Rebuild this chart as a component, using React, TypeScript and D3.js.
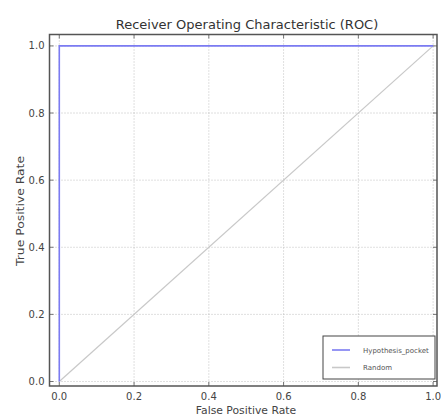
import React, { useEffect, useRef } from 'react'
import * as d3 from 'd3'

const fprPocket = [0.0, 0.0, 1.0]
const tprPocket = [0.0, 1.0, 1.0]
const fprRandom = [0.0, 1.0]
const tprRandom = [0.0, 1.0]
const xTicks = [0.0, 0.2, 0.4, 0.6, 0.8, 1.0]
const yTicks = [0.0, 0.2, 0.4, 0.6, 0.8, 1.0]
const seriesNames = ['Hypothesis_pocket', 'Random']
const seriesColors = ['#7b7bf2', '#c8c8c8']

const App = () => {
  const ref = useRef<SVGSVGElement>(null)

  useEffect(() => {
    const svg = d3.select(ref.current)
    svg.selectAll('*').remove()
    const font = 'DejaVu Sans, sans-serif'
    const left = 49.5, right = 437, top = 34.5, bottom = 386

    const x = d3.scaleLinear().domain([-0.0262, 1.0104]).range([left, right])
    const y = d3.scaleLinear().domain([-0.0134, 1.034]).range([bottom, top])

    // grid
    const grid = svg.append('g')
    grid.selectAll('.gx').data(xTicks).enter().append('line')
      .attr('x1', d => x(d)).attr('x2', d => x(d))
      .attr('y1', top).attr('y2', bottom)
      .attr('stroke', '#b0b0b0').attr('stroke-width', 0.8).attr('stroke-dasharray', '1,2')
    grid.selectAll('.gy').data(yTicks).enter().append('line')
      .attr('y1', d => y(d)).attr('y2', d => y(d))
      .attr('x1', left).attr('x2', right)
      .attr('stroke', '#b0b0b0').attr('stroke-width', 0.8).attr('stroke-dasharray', '1,2')

    const line = d3.line<[number, number]>().x(d => x(d[0])).y(d => y(d[1]))
    const series = [
      fprRandom.map((v, i) => [v, tprRandom[i]] as [number, number]),
      fprPocket.map((v, i) => [v, tprPocket[i]] as [number, number]),
    ]
    svg.append('path').attr('d', line(series[0])).attr('fill', 'none')
      .attr('stroke', seriesColors[1]).attr('stroke-width', 1.2)
    svg.append('path').attr('d', line(series[1])).attr('fill', 'none')
      .attr('stroke', seriesColors[0]).attr('stroke-width', 1.6)

    // ticks on all sides, pointing inward
    const tk = svg.append('g').attr('stroke', '#555').attr('stroke-width', 0.8)
    xTicks.forEach(t => {
      tk.append('line').attr('x1', x(t)).attr('x2', x(t)).attr('y1', bottom).attr('y2', bottom - 4)
      tk.append('line').attr('x1', x(t)).attr('x2', x(t)).attr('y1', top).attr('y2', top + 4)
    })
    yTicks.forEach(t => {
      tk.append('line').attr('y1', y(t)).attr('y2', y(t)).attr('x1', left).attr('x2', left + 4)
      tk.append('line').attr('y1', y(t)).attr('y2', y(t)).attr('x1', right).attr('x2', right - 4)
    })

    svg.append('rect').attr('x', left).attr('y', top)
      .attr('width', right - left).attr('height', bottom - top)
      .attr('fill', 'none').attr('stroke', '#555').attr('stroke-width', 1.5)

    const labels = svg.append('g').attr('font-family', font).attr('fill', '#444').attr('font-size', 10)
    labels.selectAll('.xl').data(xTicks).enter().append('text')
      .attr('x', d => x(d)).attr('y', bottom + 14)
      .attr('text-anchor', 'middle').text(d => d.toFixed(1))
    labels.selectAll('.yl').data(yTicks).enter().append('text')
      .attr('x', left - 5).attr('y', d => y(d) + 3.5)
      .attr('text-anchor', 'end').text(d => d.toFixed(1))

    svg.append('text').attr('x', 247).attr('y', 29)
      .attr('text-anchor', 'middle').attr('font-family', font).attr('font-size', 13)
      .attr('fill', '#333').text('Receiver Operating Characteristic (ROC)')
    svg.append('text').attr('x', 246).attr('y', 414)
      .attr('text-anchor', 'middle').attr('font-family', font).attr('font-size', 10.8)
      .attr('fill', '#444').text('False Positive Rate')
    svg.append('text').attr('transform', `translate(24,211) rotate(-90)`)
      .attr('text-anchor', 'middle').attr('font-family', font).attr('font-size', 10.8)
      .attr('textLength', 110).attr('lengthAdjust', 'spacingAndGlyphs')
      .attr('fill', '#444').text('True Positive Rate')

    // legend
    const lg = svg.append('g').attr('transform', 'translate(323,336)')
    lg.append('rect').attr('width', 112).attr('height', 43)
      .attr('fill', 'white').attr('stroke', '#444').attr('stroke-width', 1)
    seriesNames.forEach((name, i) => {
      const yy = 14 + i * 17.5
      lg.append('line').attr('x1', 9).attr('x2', 27).attr('y1', yy).attr('y2', yy)
        .attr('stroke', seriesColors[i]).attr('stroke-width', 1.6)
      lg.append('text').attr('x', 40).attr('y', yy + 2.5)
        .attr('font-family', font).attr('font-size', 7).attr('fill', '#555').text(name)
    })
  }, [])

  return (
    <svg ref={ref} width={441} height={417}
      style={{ position: 'absolute', left: 0, top: 0, background: 'white' }} />
  )
}

export default App
